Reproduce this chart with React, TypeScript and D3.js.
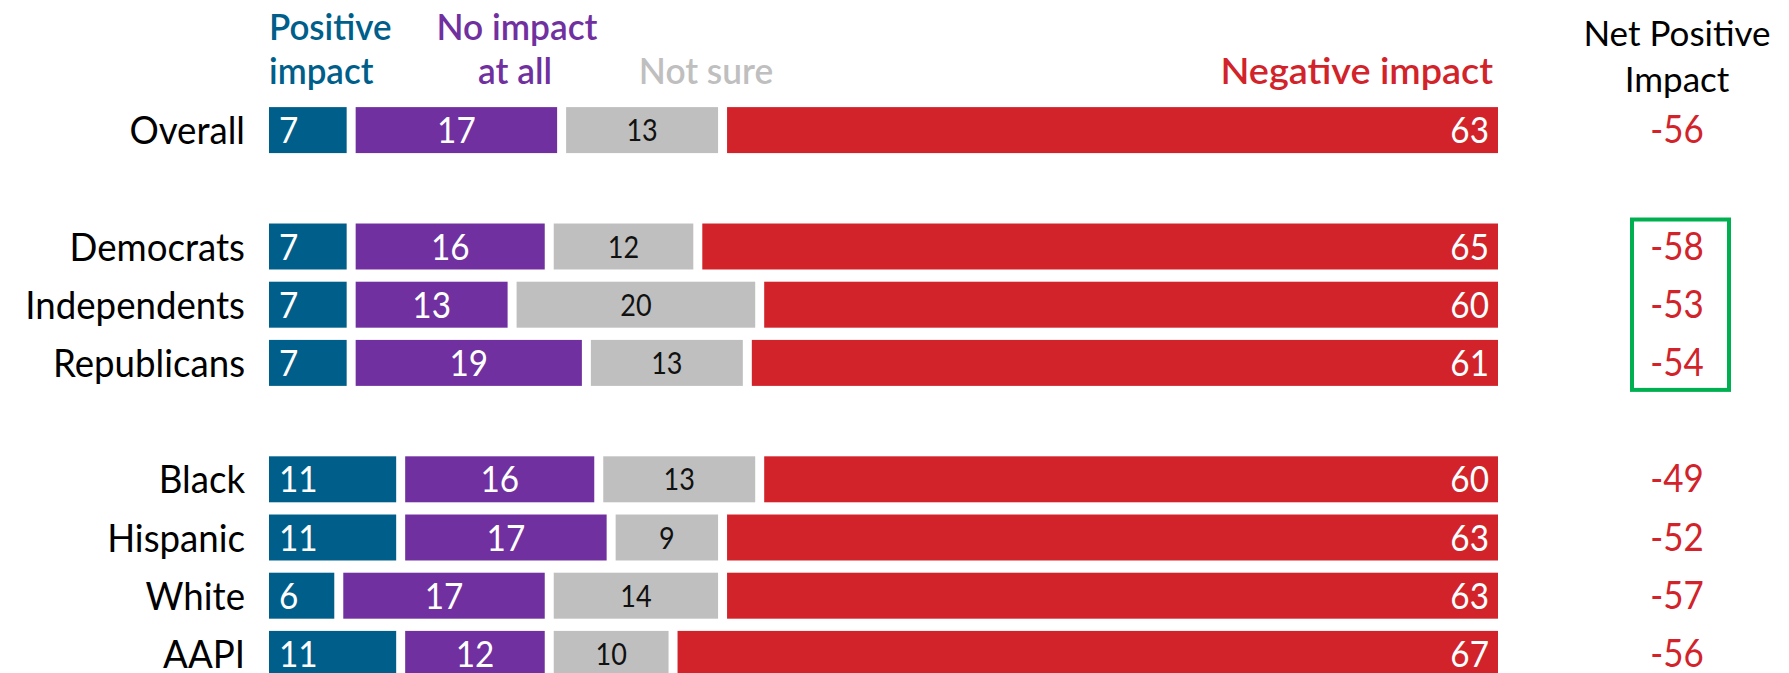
import React from "react";
import * as d3 from "d3";

const categories = ["Overall", "Democrats", "Independents", "Republicans", "Black", "Hispanic", "White", "AAPI"];
const slots = ["Overall", "gap1", "Democrats", "Independents", "Republicans", "gap2", "Black", "Hispanic", "White", "AAPI"];
const positive = [7, 7, 7, 7, 11, 11, 6, 11];
const noImpact = [17, 16, 13, 19, 16, 17, 17, 12];
const notSure = [13, 12, 20, 13, 13, 9, 14, 10];
const negative = [63, 65, 60, 61, 60, 63, 63, 67];
const netPositive = [-56, -58, -53, -54, -49, -52, -57, -56];
const highlighted = ["Democrats", "Independents", "Republicans"];

const W = 1789;
const H = 673;
const FONT = "Lato, 'Open Sans', sans-serif";

const COLORS = ["#005f8a", "#7030a0", "#bfbfbf", "#d2232a"];
const TEXT_COLORS = ["#ffffff", "#ffffff", "#111111", "#ffffff"];

function SText(props: {
  x: number;
  y: number;
  sx?: number;
  anchor?: string;
  size: number;
  fill: string;
  weight?: number;
  children: React.ReactNode;
}) {
  const { x, y, sx = 1, anchor = "start", size, fill, weight = 400, children } = props;
  return (
    <text
      transform={`translate(${x},${y}) scale(${sx},1)`}
      textAnchor={anchor}
      fontSize={size}
      fill={fill}
      fontWeight={weight}
    >
      {children}
    </text>
  );
}

export default function App() {
  const x = d3.scaleLinear().domain([0, 100]).range([264.5, 1502.5]);
  const y = d3.scaleBand<string>().domain(slots).range([101, 683]).paddingInner(0.21).paddingOuter(0.105);
  const gap = 9;
  const bw = y.bandwidth();
  const series = [positive, noImpact, notSure, negative];

  const rows = categories.map((c, i) => {
    let cum = 0;
    const segs = series.map((s, k) => {
      const v = s[i];
      const x0 = x(cum);
      const x1 = x(cum + v);
      cum += v;
      return { k, v, x0: x0 + gap / 2, x1: x1 - gap / 2 };
    });
    return { c, i, segs, y0: y(c) as number };
  });

  const hl = highlighted.map((c) => y(c) as number);
  const boxTop = d3.min(hl)! - 4;
  const boxBottom = d3.max(hl)! + bw + 4;
  const netX = 1677;

  return (
    <svg width={W} height={H} style={{ position: "absolute", left: 0, top: 0, background: "#fff" }} fontFamily={FONT}>
      {/* headers */}
      <SText x={269} y={40} size={36} weight={600} fill={COLORS[0]} sx={0.97}>Positive</SText>
      <SText x={269} y={84} size={36} weight={600} fill={COLORS[0]} sx={0.97}>impact</SText>
      <SText x={517} y={40} size={36} weight={600} fill={COLORS[1]} anchor="middle" sx={0.98}>No impact</SText>
      <SText x={515} y={84} size={36} weight={600} fill={COLORS[1]} anchor="middle" sx={0.98}>at all</SText>
      <SText x={706} y={84} size={36} weight={600} fill={COLORS[2]} anchor="middle" sx={0.98}>Not sure</SText>
      <SText x={x(100) - gap / 2 - 5} y={84} size={36} weight={600} fill={COLORS[3]} anchor="end" sx={1.05}>
        Negative impact
      </SText>
      <SText x={netX} y={46} size={35} fill="#000" anchor="middle">Net Positive</SText>
      <SText x={netX} y={92} size={35} fill="#000" anchor="middle">Impact</SText>
      {rows.map((r) => {
        const cy = r.y0 + bw / 2;
        return (
          <g key={r.c}>
            <SText x={245} y={cy + 14} anchor="end" size={39} sx={0.94} fill="#000">
              {r.c}
            </SText>
            {r.segs.map((s) => (
              <rect key={s.k} x={s.x0} y={r.y0} width={Math.max(0, s.x1 - s.x0)} height={bw} fill={COLORS[s.k]} />
            ))}
            {r.segs.map((s) => {
              const anchor = s.k === 0 ? "start" : s.k === 3 ? "end" : "middle";
              const tx = s.k === 0 ? s.x0 + 10 : s.k === 3 ? s.x1 - 9 : (s.x0 + s.x1) / 2;
              return (
                <SText
                  key={"t" + s.k}
                  x={tx}
                  y={cy + (s.k === 2 ? 11 : 13)}
                  anchor={anchor}
                  size={s.k === 2 ? 30 : 37}
                  sx={0.9}
                  fill={TEXT_COLORS[s.k]}
                >
                  {s.v}
                </SText>
              );
            })}
            <SText x={netX} y={cy + 13} anchor="middle" size={38} sx={0.92} fill={COLORS[3]}>
              {netPositive[r.i]}
            </SText>
          </g>
        );
      })}
      <rect x={1632} y={boxTop} width={97} height={boxBottom - boxTop} fill="none" stroke="#00b050" strokeWidth={4} />
    </svg>
  );
}
